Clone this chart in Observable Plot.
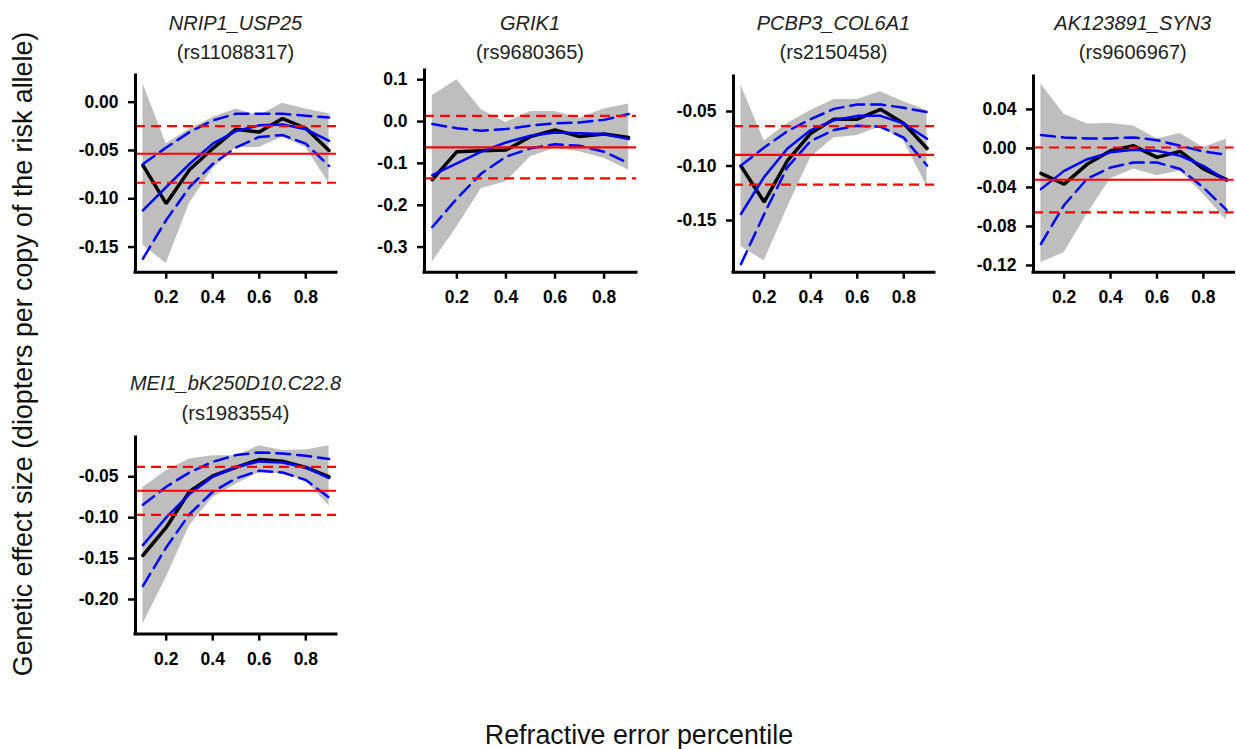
<!DOCTYPE html>
<html>
<head>
<meta charset="utf-8">
<script src="https://cdn.jsdelivr.net/npm/d3@7"></script>
<script src="https://cdn.jsdelivr.net/npm/@observablehq/plot@0.6"></script>
<style>
html, body { margin: 0; padding: 0; background: #ffffff; }
#fig { position: relative; width: 1236px; height: 749px; overflow: hidden; background: #ffffff;
       font-family: "Liberation Sans", Arial, Helvetica, sans-serif; }
#fig svg { position: absolute; overflow: visible; }
</style>
</head>
<body>
<div id="fig"></div>
<script>
// ---------- data ----------
const percentile = [0.1, 0.2, 0.3, 0.4, 0.5, 0.6, 0.7, 0.8, 0.9];
const xTicks = [0.2, 0.4, 0.6, 0.8];
const xLim = [0.068, 0.932];

const geneNames = ["NRIP1_USP25", "GRIK1", "PCBP3_COL6A1", "AK123891_SYN3", "MEI1_bK250D10.C22.8"];
const snpIds = ["rs11088317", "rs9680365", "rs2150458", "rs9606967", "rs1983554"];

const xLabel = "Refractive error percentile";
const yLabel = "Genetic effect size (diopters per copy of the risk allele)";

// Panel 1: NRIP1_USP25
const p1Est   = [-0.0655, -0.105, -0.070, -0.048, -0.028, -0.031, -0.017, -0.027, -0.050];
const p1Lo    = [-0.148, -0.167, -0.105, -0.069, -0.047, -0.047, -0.036, -0.047, -0.084];
const p1Hi    = [0.019, -0.043, -0.028, -0.016, -0.007, -0.014, -0.001, -0.007, -0.012];
const p1Fit   = [-0.112, -0.088, -0.064, -0.043, -0.030, -0.024, -0.023, -0.028, -0.040];
const p1FitLo = [-0.162, -0.122, -0.088, -0.064, -0.047, -0.036, -0.034, -0.043, -0.066];
const p1FitHi = [-0.064, -0.047, -0.031, -0.019, -0.012, -0.012, -0.012, -0.014, -0.016];
const p1Overall = [-0.0534, -0.0834, -0.0248];
const p1Ticks = [0, -0.05, -0.10, -0.15];
const p1YLim = [-0.176, 0.0276];

// Panel 2: GRIK1
const p2Est   = [-0.139, -0.072, -0.070, -0.068, -0.036, -0.020, -0.036, -0.030, -0.038];
const p2Lo    = [-0.336, -0.252, -0.160, -0.144, -0.084, -0.064, -0.072, -0.088, -0.116];
const p2Hi    = [0.062, 0.100, 0.028, -0.002, 0.024, 0.024, 0.008, 0.030, 0.042];
const p2Fit   = [-0.128, -0.100, -0.072, -0.050, -0.034, -0.026, -0.028, -0.030, -0.042];
const p2FitLo = [-0.252, -0.184, -0.124, -0.084, -0.064, -0.054, -0.058, -0.072, -0.100];
const p2FitHi = [-0.006, -0.016, -0.022, -0.018, -0.010, -0.004, -0.002, 0.004, 0.018];
const p2Overall = [-0.0615, -0.136, 0.0136];
const p2Ticks = [0.1, 0, -0.1, -0.2, -0.3];
const p2YLim = [-0.360, 0.122];

// Panel 3: PCBP3_COL6A1
const p3Est   = [-0.100, -0.133, -0.095, -0.070, -0.057, -0.057, -0.048, -0.061, -0.084];
const p3Lo    = [-0.174, -0.187, -0.138, -0.092, -0.074, -0.072, -0.064, -0.077, -0.119];
const p3Hi    = [-0.026, -0.077, -0.061, -0.049, -0.039, -0.039, -0.032, -0.041, -0.049];
const p3Fit   = [-0.144, -0.110, -0.084, -0.067, -0.058, -0.054, -0.054, -0.061, -0.075];
const p3FitLo = [-0.190, -0.144, -0.101, -0.077, -0.067, -0.063, -0.064, -0.074, -0.0995];
const p3FitHi = [-0.0995, -0.083, -0.068, -0.057, -0.0476, -0.0436, -0.0436, -0.0466, -0.0506];
const p3Overall = [-0.0898, -0.117, -0.0635];
const p3Ticks = [-0.05, -0.10, -0.15];
const p3YLim = [-0.1974, -0.0179];

// Panel 4: AK123891_SYN3
const p4Est   = [-0.0256, -0.0366, -0.016, -0.0024, 0.0027, -0.0092, -0.003, -0.021, -0.032];
const p4Lo    = [-0.117, -0.107, -0.067, -0.031, -0.021, -0.028, -0.023, -0.047, -0.074];
const p4Hi    = [0.066, 0.035, 0.025, 0.0256, 0.023, 0.0096, 0.0154, 0.001, 0.0096];
const p4Fit   = [-0.0417, -0.023, -0.011, -0.004, -0.0014, -0.0024, -0.0075, -0.0178, -0.033];
const p4FitLo = [-0.098, -0.058, -0.031, -0.0195, -0.0144, -0.0144, -0.021, -0.040, -0.063];
const p4FitHi = [0.0137, 0.0113, 0.0103, 0.0103, 0.0113, 0.0085, 0.0027, -0.003, -0.0065];
const p4Overall = [-0.0321, -0.0656, 0.001];
const p4Ticks = [0.04, 0, -0.04, -0.08, -0.12];
const p4YLim = [-0.1269, 0.0738];

// Panel 5: MEI1_bK250D10.C22.8
const p5Est   = [-0.146, -0.112, -0.068, -0.049, -0.0386, -0.029, -0.031, -0.0386, -0.050];
const p5Lo    = [-0.230, -0.173, -0.110, -0.0753, -0.059, -0.0447, -0.0467, -0.055, -0.0855];
const p5Hi    = [-0.063, -0.0427, -0.0284, -0.0243, -0.0243, -0.0121, -0.018, -0.0174, -0.0121];
const p5Fit   = [-0.1336, -0.0997, -0.0712, -0.050, -0.0378, -0.0312, -0.0325, -0.0386, -0.0516];
const p5FitLo = [-0.1833, -0.1364, -0.0957, -0.0683, -0.052, -0.0427, -0.0447, -0.054, -0.0753];
const p5FitHi = [-0.0842, -0.0622, -0.0447, -0.0317, -0.0235, -0.0202, -0.0215, -0.0243, -0.0284];
const p5Overall = [-0.0671, -0.0965, -0.0378];
const p5Ticks = [-0.05, -0.10, -0.15, -0.20];
const p5YLim = [-0.2423, -0.002];

// ---------- assemble ----------
const panelData = [
  {est: p1Est, lo: p1Lo, hi: p1Hi, fit: p1Fit, fitLo: p1FitLo, fitHi: p1FitHi, overall: p1Overall, ticks: p1Ticks, yLim: p1YLim, digits: 2},
  {est: p2Est, lo: p2Lo, hi: p2Hi, fit: p2Fit, fitLo: p2FitLo, fitHi: p2FitHi, overall: p2Overall, ticks: p2Ticks, yLim: p2YLim, digits: 1},
  {est: p3Est, lo: p3Lo, hi: p3Hi, fit: p3Fit, fitLo: p3FitLo, fitHi: p3FitHi, overall: p3Overall, ticks: p3Ticks, yLim: p3YLim, digits: 2},
  {est: p4Est, lo: p4Lo, hi: p4Hi, fit: p4Fit, fitLo: p4FitLo, fitHi: p4FitHi, overall: p4Overall, ticks: p4Ticks, yLim: p4YLim, digits: 2},
  {est: p5Est, lo: p5Lo, hi: p5Hi, fit: p5Fit, fitLo: p5FitLo, fitHi: p5FitHi, overall: p5Overall, ticks: p5Ticks, yLim: p5YLim, digits: 2}
];

// frame placement of each panel on the page (layout only)
const frames = [
  {left: 135,    top: 75,    width: 201,   height: 196.7, titleY: 29.5},
  {left: 424,    top: 70,    width: 212,   height: 201.7, titleY: 29.5},
  {left: 733,    top: 76,    width: 201,   height: 195.7, titleY: 29.5},
  {left: 1032.5, top: 76,    width: 200.5, height: 195.7, titleY: 29.5},
  {left: 135,    top: 436.7, width: 201,   height: 196.6, titleY: 390}
];

const FONT = '"Liberation Sans", Arial, Helvetica, sans-serif';
const M = {left: 78, top: 8, right: 8, bottom: 48};
const fig = document.getElementById("fig");

panelData.forEach((p, i) => {
  const f = frames[i];
  const rows = percentile.map((x, k) => ({
    x, est: p.est[k], lo: p.lo[k], hi: p.hi[k], fit: p.fit[k], fitLo: p.fitLo[k], fitHi: p.fitHi[k]
  }));
  const fmt = d => d.toFixed(p.digits);
  const chart = Plot.plot({
    width: f.width + M.left + M.right,
    height: f.height + M.top + M.bottom,
    marginLeft: M.left, marginRight: M.right, marginTop: M.top, marginBottom: M.bottom,
    x: {domain: xLim},
    y: {domain: p.yLim},
    style: {background: "transparent", color: "black", fontFamily: FONT, fontWeight: "bold", overflow: "visible"},
    marks: [
      Plot.areaY(rows, {x: "x", y1: "lo", y2: "hi", fill: "#bebebe"}),
      Plot.lineY(rows, {x: "x", y: "est", stroke: "black", strokeWidth: 3.5, strokeLinejoin: "miter"}),
      Plot.lineY(rows, {x: "x", y: "fit", stroke: "#0000ff", strokeWidth: 2.5}),
      Plot.lineY(rows, {x: "x", y: "fitLo", stroke: "#0000ff", strokeWidth: 2.5, strokeDasharray: "14,7"}),
      Plot.lineY(rows, {x: "x", y: "fitHi", stroke: "#0000ff", strokeWidth: 2.5, strokeDasharray: "14,7"}),
      Plot.ruleY([p.overall[0]], {stroke: "#ff0000", strokeWidth: 2.2}),
      Plot.ruleY([p.overall[1], p.overall[2]], {stroke: "#ff0000", strokeWidth: 2.2, strokeDasharray: "10,6"}),
      Plot.ruleX([xLim[0]], {stroke: "black", strokeWidth: 3, strokeLinecap: "square"}),
      Plot.ruleY([p.yLim[0]], {stroke: "black", strokeWidth: 3, strokeLinecap: "square"}),
      Plot.axisX({ticks: xTicks, tickSize: 7, tickPadding: 11, strokeWidth: 2.5, fontSize: 17.5, label: null, tickFormat: d => d.toFixed(1)}),
      Plot.axisY({ticks: p.ticks, tickSize: 7, tickPadding: 10, strokeWidth: 2.5, fontSize: 17.5, label: null, tickFormat: fmt})
    ]
  });
  chart.style.position = "absolute";
  chart.style.left = (f.left - M.left) + "px";
  chart.style.top = (f.top - M.top) + "px";
  fig.appendChild(chart);
});

// ---------- text overlay: panel titles and axis titles ----------
const overlay = d3.select(fig).append("svg")
  .attr("width", 1236).attr("height", 749)
  .style("left", "0px").style("top", "0px")
  .attr("font-family", FONT);

frames.forEach((f, i) => {
  const cx = f.left + f.width / 2;
  overlay.append("text")
    .attr("x", cx).attr("y", f.titleY)
    .attr("text-anchor", "middle").attr("font-size", 20).attr("font-style", "italic")
    .attr("fill", "#222").text(geneNames[i]);
  overlay.append("text")
    .attr("x", cx).attr("y", f.titleY + 29.5)
    .attr("text-anchor", "middle").attr("font-size", 20)
    .attr("fill", "#222").text("(" + snpIds[i] + ")");
});

overlay.append("text")
  .attr("x", 639).attr("y", 744)
  .attr("text-anchor", "middle").attr("font-size", 26.8).attr("fill", "#111")
  .text(xLabel);

overlay.append("text")
  .attr("transform", "translate(32,354) rotate(-90)")
  .attr("text-anchor", "middle").attr("font-size", 26.8).attr("fill", "#111")
  .text(yLabel);
</script>
</body>
</html>
